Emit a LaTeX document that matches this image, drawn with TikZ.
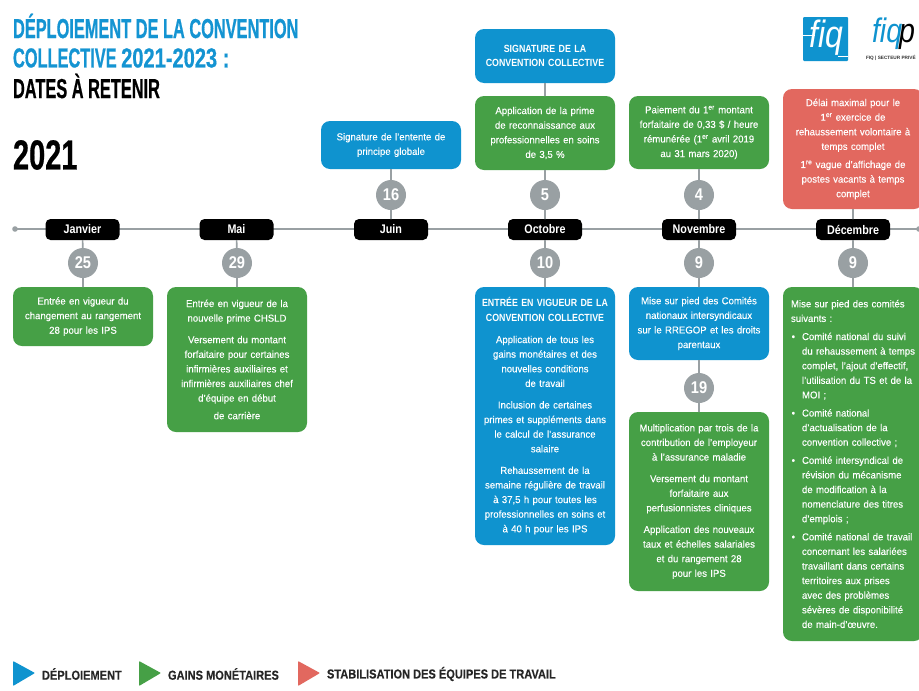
\documentclass[tikz,border=0pt]{standalone}
\usepackage{fontspec}
\setmainfont{Liberation Sans}
\newfontfamily\titlefont[FakeStretch=0.595,FakeBold=0.5]{Liberation Sans Bold}
\newfontfamily\titledigits[FakeStretch=0.73,FakeBold=0.5]{Liberation Sans Bold}
\newfontfamily\yearfont[FakeStretch=0.69,FakeBold=0.5]{Liberation Sans Bold}
\newfontfamily\legendfont[FakeStretch=0.85,FakeBold=0.2]{Liberation Sans Bold}
\newfontfamily\bodyfont[FakeStretch=0.96,FakeBold=0.15]{Liberation Sans}
\newfontfamily\headfont[FakeStretch=0.85]{Liberation Sans Bold}
\newfontfamily\monthfont[FakeStretch=0.86]{Liberation Sans Bold}
\newfontfamily\logofont[FakeStretch=0.84]{Liberation Sans Italic}
\definecolor{fblue}{HTML}{0F93CF}
\definecolor{fgreen}{HTML}{46A046}
\definecolor{fred}{HTML}{E2685F}
\definecolor{fgrey}{HTML}{99A0A3}
\definecolor{ftitle}{HTML}{1494D2}
\newcommand{\sq}[1]{\textsuperscript{#1}}
\newcommand{\bl}[1]{\hangindent=11pt\hangafter=0\leavevmode\llap{\textbullet\hspace{7pt}}#1\par}
\newcommand{\bodyset}{\fontsize{10}{14.6}\selectfont\bodyfont}
\newcommand{\headset}{\fontsize{10.4}{14.6}\selectfont\headfont}
\tikzset{
  every node/.style={inner sep=0pt,outer sep=0pt},
  infobox/.style={rounded corners=9pt,text=white,text width=138pt,align=center,font=\bodyset},
  bluebox/.style={infobox,fill=fblue},
  greenbox/.style={infobox,fill=fgreen},
  redbox/.style={infobox,fill=fred},
  month/.style={fill=black,text=white,rounded corners=5pt,minimum width=74pt,minimum height=21pt,
    font=\fontsize{12.5}{14}\selectfont\monthfont},
  day/.style={circle,fill=fgrey,text=white,minimum size=30pt,font=\fontsize{17}{18}\selectfont\monthfont},
  link/.style={draw=fgrey,line width=1.6pt},
  titletext/.style={anchor=west,font=\fontsize{27.5}{30}\selectfont\titlefont},
  legendtext/.style={anchor=west,text=black!85,font=\fontsize{13}{14}\selectfont\legendfont}
}
\begin{document}
\begin{tikzpicture}[x=1pt,y=-1pt]
\useasboundingbox (0,0) rectangle (919,691);
\clip (0,0) rectangle (919,691);
\fill[white] (0,0) rectangle (919,691);
% timeline
\coordinate (start) at (15,229);
\coordinate (finish) at (919,229);
\fill[fgrey] (start) circle (2.8pt);
\fill[fgrey] (finish) circle (2.8pt);
\draw[link] (start) -- (finish);
% titles
\node[titletext,text=ftitle] (t1) at (13,26) {DÉPLOIEMENT DE LA CONVENTION};
\node[titletext,text=ftitle] (t2) at (13,58) {COLLECTIVE {\titledigits 2021-2023 :}};
\node[titletext,text=black] (t3) at (13,86) {DATES À RETENIR};
\node[anchor=west,text=black,font=\fontsize{42}{43}\selectfont\yearfont] (year) at (13,155) {2021};
% months
\node[month] (jan) at (82.5,229.5) {Janvier};
\node[month] (mai) at (236.5,229.5) {Mai};
\node[month] (jun) at (391,229.5) {Juin};
\node[month] (oct) at (545,229.5) {Octobre};
\node[month] (nov) at (699,229.5) {Novembre};
\node[month] (dec) at (853,229.5) {Décembre};
% days
\node[day] (d25) at (83,263) {25};
\node[day] (d29) at (237,263) {29};
\node[day] (d16) at (391,195) {16};
\node[day] (d5) at (545,195) {5};
\node[day] (d10) at (545,263) {10};
\node[day] (d4) at (699,195) {4};
\node[day] (d9a) at (699,263) {9};
\node[day] (d19) at (699,388) {19};
\node[day] (d9b) at (853,263) {9};
% boxes
\node[greenbox,minimum width=140pt,minimum height=59pt] (bjan) at (83,316.5)
  {Entrée en vigueur du\\changement au rangement\\28 pour les IPS};
\node[greenbox,minimum width=140pt,minimum height=145pt] (bmai) at (237,359.5)
  {Entrée en vigueur de la\\nouvelle prime CHSLD\\[7pt]Versement du montant\\forfaitaire pour certaines\\infirmières auxiliaires et\\infirmières auxiliaires chef\\d’équipe en début\\[3pt]de carrière};
\node[bluebox,minimum width=140pt,minimum height=48pt] (bjun) at (391,145)
  {Signature de l’entente de\\principe globale};
\node[bluebox,minimum width=140pt,minimum height=54pt,font=\headset] (bsig) at (545,56)
  {SIGNATURE DE LA\\CONVENTION COLLECTIVE};
\node[greenbox,minimum width=140pt,minimum height=74pt] (bapp) at (545,133)
  {Application de la prime\\de reconnaissance aux\\professionnelles en soins\\de 3,5 \%};
\node[greenbox,minimum width=140pt,minimum height=73pt] (bpai) at (699,132.5)
  {Paiement du 1\sq{er} montant\\forfaitaire de 0,33 \$ / heure\\rémunérée (1\sq{er} avril 2019\\au 31 mars 2020)};
\node[redbox,minimum width=140pt,minimum height=120pt] (bdel) at (853,149)
  {Délai maximal pour le\\1\sq{er} exercice de\\rehaussement volontaire à\\temps complet\\[3.5pt]1\sq{re} vague d’affichage de\\postes vacants à temps\\complet};
\node[bluebox,minimum width=140pt,minimum height=258pt] (bent) at (545,416)
  {{\headset ENTRÉE EN VIGUEUR DE LA\\CONVENTION COLLECTIVE}\\[7pt]Application de tous les\\gains monétaires et des\\nouvelles conditions\\de travail\\[7pt]Inclusion de certaines\\primes et suppléments dans\\le calcul de l’assurance\\salaire\\[7pt]Rehaussement de la\\semaine régulière de travail\\à 37,5 h pour toutes les\\professionnelles en soins et\\à 40 h pour les IPS};
\node[bluebox,minimum width=140pt,minimum height=73pt] (bmis) at (699,323.5)
  {Mise sur pied des Comités\\nationaux intersyndicaux\\sur le RREGOP et les droits\\parentaux};
\node[greenbox,minimum width=140pt,minimum height=179pt] (bmul) at (699,501.5)
  {Multiplication par trois de la\\contribution de l’employeur\\à l’assurance maladie\\[7pt]Versement du montant\\forfaitaire aux\\perfusionnistes cliniques\\[7pt]Application des nouveaux\\taux et échelles salariales\\et du rangement 28\\pour les IPS};
\node[greenbox,minimum width=140pt,minimum height=354pt,text width=124pt,align=left] (bcom) at (853,464)
  {Mise sur pied des comités\newline suivants :\par\vspace{3.5pt}
  \bl{Comité national du suivi\newline du rehaussement à temps\newline complet, l’ajout d’effectif,\newline l’utilisation du TS et de la\newline MOI ;}\vspace{3.5pt}
  \bl{Comité national\newline d’actualisation de la\newline convention collective ;}\vspace{3.5pt}
  \bl{Comité intersyndical de\newline révision du mécanisme\newline de modification à la\newline nomenclature des titres\newline d’emplois ;}\vspace{3.5pt}
  \bl{Comité national de travail\newline concernant les salariées\newline travaillant dans certains\newline territoires aux prises\newline avec des problèmes\newline sévères de disponibilité\newline de main-d’œuvre.}};
% connectors
\path[link] (jan) -- (d25) (d25) -- (bjan) (mai) -- (d29) (d29) -- (bmai)
  (jun) -- (d16) (d16) -- (bjun) (oct) -- (d5) (d5) -- (bapp) (bapp) -- (bsig)
  (oct) -- (d10) (d10) -- (bent) (nov) -- (d4) (d4) -- (bpai) (nov) -- (d9a) (d9a) -- (bmis)
  (bmis) -- (d19) (d19) -- (bmul) (dec) -- (bdel) (dec) -- (d9b) (d9b) -- (bcom);
% legend
\fill[fblue,rounded corners=0.8pt] (13,661) -- (35,673) -- (13,686) -- cycle;
\node[legendtext] (l1) at (42,674) {DÉPLOIEMENT};
\fill[fgreen,rounded corners=0.8pt] (139,661) -- (161,673) -- (139,686) -- cycle;
\node[legendtext] (l2) at (168,674) {GAINS MONÉTAIRES};
\fill[fred,rounded corners=0.8pt] (298,661) -- (320,673) -- (298,686) -- cycle;
\node[legendtext] (l3) at (327,674) {STABILISATION DES ÉQUIPES DE TRAVAIL};
% logos
\node[fill=fblue,rounded corners=1pt,minimum width=45pt,minimum height=44pt] (logo) at (825.5,39) {};
\node[text=white,font=\fontsize{38}{38}\selectfont\logofont] (logot) at (826,38) {fiq};
\fill[white] (803,35) rectangle (815,36.4);
\fill[white] (838,55.5) rectangle (848,57);
\node[anchor=west,font=\fontsize{34}{34}\selectfont\logofont] (logob) at (872,34) {\textcolor{fblue}{fiq}\hspace{-3pt}\textcolor{black}{p}};
\node[anchor=west,font=\fontsize{4.7}{5}\selectfont\bfseries,text=black!80] (logos) at (866,58) {FIQ | SECTEUR PRIVÉ};
\end{tikzpicture}
\end{document}
